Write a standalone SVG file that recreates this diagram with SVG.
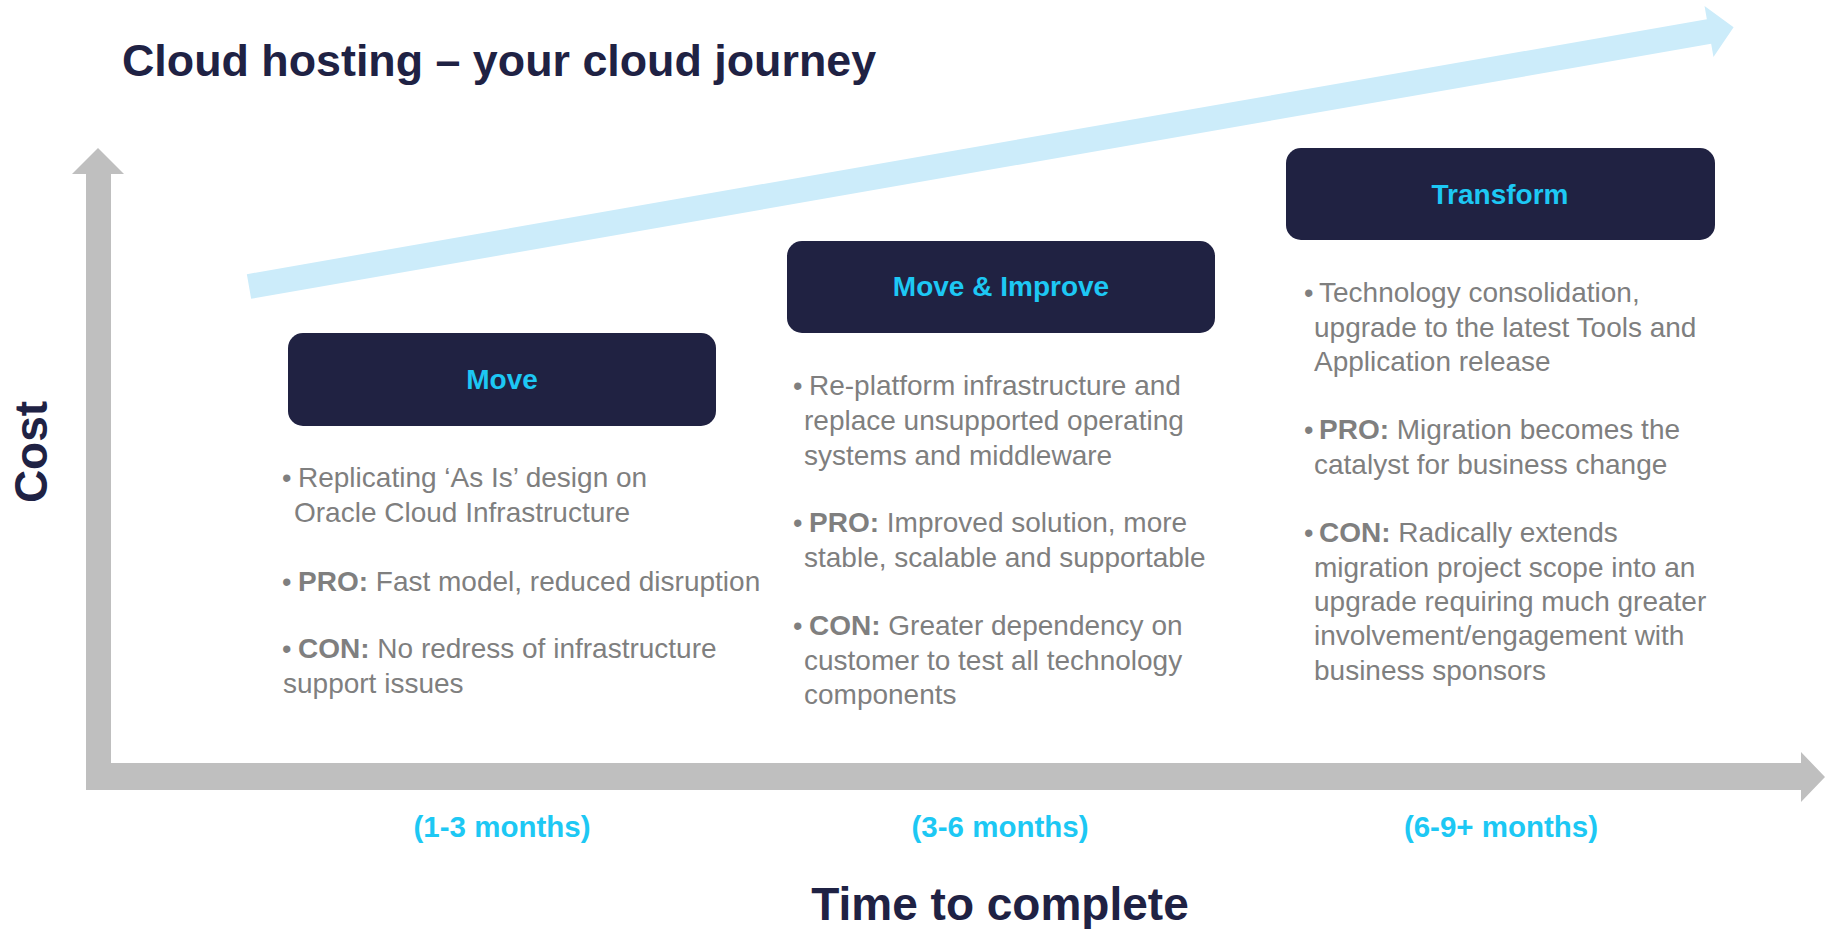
<svg xmlns="http://www.w3.org/2000/svg" width="1825" height="929" viewBox="0 0 1825 929">
<style>
.title{font-family:"Liberation Sans",Arial,sans-serif;font-weight:700;fill:#1F2244}
.box{fill:#202242}
.lbl{font-family:"Liberation Sans",Arial,sans-serif;font-weight:700;font-size:28px;fill:#1DC8F4;text-anchor:middle}
.mon{font-family:"Liberation Sans",Arial,sans-serif;font-weight:700;font-size:29.5px;fill:#1DC8F4;text-anchor:middle}
.body{font-family:"Liberation Sans",Arial,sans-serif;font-size:28px;fill:#7F7F7F}
.bul{font-family:"Liberation Sans",Arial,sans-serif;font-size:27px;fill:#7F7F7F}
.b{font-weight:700}
.axis{fill:#BFBFBF}
.journey{fill:#CCECFA}
</style>
<rect width="1825" height="929" fill="#FFFFFF"/>
<text class="title" x="122" y="76" font-size="44.8">Cloud hosting – your cloud journey</text>

<g id="connectors">
<path id="journey-arrow" class="journey" d="M246.85,274.19 L1706.85,19.19 L1704.53,5.89 L1733.6,27.2 L1713.47,57.11 L1711.15,43.81 L251.15,298.81 Z"/>
<path id="axes" class="axis" d="M86,790 L86,174 L72,174 L98,148 L124,174 L111,174 L111,763 L1801,763 L1801,752 L1825,777 L1801,802 L1801,790 Z"/>
</g>

<text class="title" font-size="46" text-anchor="middle" transform="translate(47,452) rotate(-90)">Cost</text>
<text class="title" x="1000" y="920" font-size="46" text-anchor="middle">Time to complete</text>

<g id="move">
<rect class="box" x="288" y="333" width="428" height="93" rx="15"/>
<text class="lbl" x="502" y="389">Move</text>
<text class="bul" x="282" y="487">•</text>
<text class="body" x="298" y="487">Replicating ‘As Is’ design on</text>
<text class="body" x="294" y="522">Oracle Cloud Infrastructure</text>
<text class="bul" x="282" y="591">•</text>
<text class="body" x="298" y="591"><tspan class="b">PRO:</tspan> Fast model, reduced disruption</text>
<text class="bul" x="282" y="658">•</text>
<text class="body" x="298" y="658"><tspan class="b">CON:</tspan> No redress of infrastructure</text>
<text class="body" x="283" y="693">support issues</text>
<text class="mon" x="502" y="837">(1-3 months)</text>
</g>

<g id="move-improve">
<rect class="box" x="787" y="241" width="428" height="92" rx="15"/>
<text class="lbl" x="1001" y="296">Move &amp; Improve</text>
<text class="bul" x="793" y="395">•</text>
<text class="body" x="809" y="395">Re-platform infrastructure and</text>
<text class="body" x="804" y="430">replace unsupported operating</text>
<text class="body" x="804" y="465">systems and middleware</text>
<text class="bul" x="793" y="532">•</text>
<text class="body" x="809" y="532"><tspan class="b">PRO:</tspan> Improved solution, more</text>
<text class="body" x="804" y="567">stable, scalable and supportable</text>
<text class="bul" x="793" y="635">•</text>
<text class="body" x="809" y="635"><tspan class="b">CON:</tspan> Greater dependency on</text>
<text class="body" x="804" y="670">customer to test all technology</text>
<text class="body" x="804" y="704">components</text>
<text class="mon" x="1000" y="837">(3-6 months)</text>
</g>

<g id="transform">
<rect class="box" x="1286" y="148" width="429" height="92" rx="15"/>
<text class="lbl" x="1500" y="204">Transform</text>
<text class="bul" x="1304" y="302">•</text>
<text class="body" x="1319" y="302">Technology consolidation,</text>
<text class="body" x="1314" y="337">upgrade to the latest Tools and</text>
<text class="body" x="1314" y="371">Application release</text>
<text class="bul" x="1304" y="439">•</text>
<text class="body" x="1319" y="439"><tspan class="b">PRO:</tspan> Migration becomes the</text>
<text class="body" x="1314" y="474">catalyst for business change</text>
<text class="bul" x="1304" y="542">•</text>
<text class="body" x="1319" y="542"><tspan class="b">CON:</tspan> Radically extends</text>
<text class="body" x="1314" y="577">migration project scope into an</text>
<text class="body" x="1314" y="611">upgrade requiring much greater</text>
<text class="body" x="1314" y="645">involvement/engagement with</text>
<text class="body" x="1314" y="680">business sponsors</text>
<text class="mon" x="1501" y="837">(6-9+ months)</text>
</g>
</svg>
